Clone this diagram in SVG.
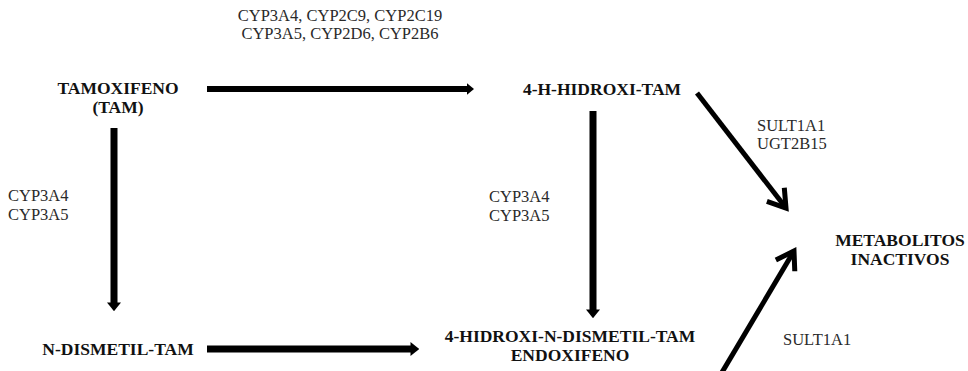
<svg xmlns="http://www.w3.org/2000/svg" width="968" height="371" viewBox="0 0 968 371">
<defs>
<style>
.node{font-family:'Liberation Serif',serif;font-weight:bold;font-size:17.5px;fill:#111;text-anchor:middle}
.lab{font-family:'Liberation Serif',serif;font-size:16.5px;fill:#2a2a2a}
.arr{stroke:#000;fill:none}
</style>
<marker id="head" markerUnits="strokeWidth" markerWidth="1.25" markerHeight="2.3" viewBox="0 0 5 8" refX="0.3" refY="4" orient="auto">
<path d="M0,0 L5,4 L0,8 z" fill="#000"/>
</marker>
<marker id="chev" markerUnits="userSpaceOnUse" markerWidth="40" markerHeight="40" viewBox="-25 -20 40 40" refX="0" refY="0" orient="auto">
<path d="M-17,-11 L0,0 L-17,11" fill="none" stroke="#000" stroke-width="5"/>
</marker>
</defs>
<rect width="968" height="371" fill="#fff"/>
<g id="connectors">
<line class="arr" x1="207" y1="89" x2="467" y2="89" stroke-width="6" marker-end="url(#head)"/>
<line class="arr" x1="207" y1="349" x2="411" y2="349" stroke-width="7" marker-end="url(#head)"/>
<line class="arr" x1="114" y1="128" x2="114" y2="303" stroke-width="7" marker-end="url(#head)"/>
<line class="arr" x1="593" y1="111" x2="593" y2="310" stroke-width="7" marker-end="url(#head)"/>
<line class="arr" x1="697" y1="93" x2="786" y2="208" stroke-width="5" marker-end="url(#chev)"/>
<line class="arr" x1="721" y1="374" x2="794" y2="251" stroke-width="5" marker-end="url(#chev)"/>
</g>
<g id="labels">
<text class="lab" x="340" y="21" text-anchor="middle">CYP3A4, CYP2C9, CYP2C19</text>
<text class="lab" x="340" y="39" text-anchor="middle">CYP3A5, CYP2D6, CYP2B6</text>
<text class="lab" x="8" y="201">CYP3A4</text>
<text class="lab" x="8" y="220">CYP3A5</text>
<text class="lab" x="489" y="202">CYP3A4</text>
<text class="lab" x="489" y="221">CYP3A5</text>
<text class="lab" x="757" y="131">SULT1A1</text>
<text class="lab" x="757" y="149">UGT2B15</text>
<text class="lab" x="783" y="345">SULT1A1</text>
</g>
<g id="tamoxifeno">
<text class="node" x="118" y="94">TAMOXIFENO</text>
<text class="node" x="118" y="113">(TAM)</text>
</g>
<g id="hidroxi-tam">
<text class="node" x="602" y="95">4-H-HIDROXI-TAM</text>
</g>
<g id="n-dismetil-tam">
<text class="node" x="118" y="355">N-DISMETIL-TAM</text>
</g>
<g id="endoxifeno">
<text class="node" x="570" y="342">4-HIDROXI-N-DISMETIL-TAM</text>
<text class="node" x="570" y="361">ENDOXIFENO</text>
</g>
<g id="metabolitos">
<text class="node" x="900" y="246">METABOLITOS</text>
<text class="node" x="900" y="265">INACTIVOS</text>
</g>
</svg>
